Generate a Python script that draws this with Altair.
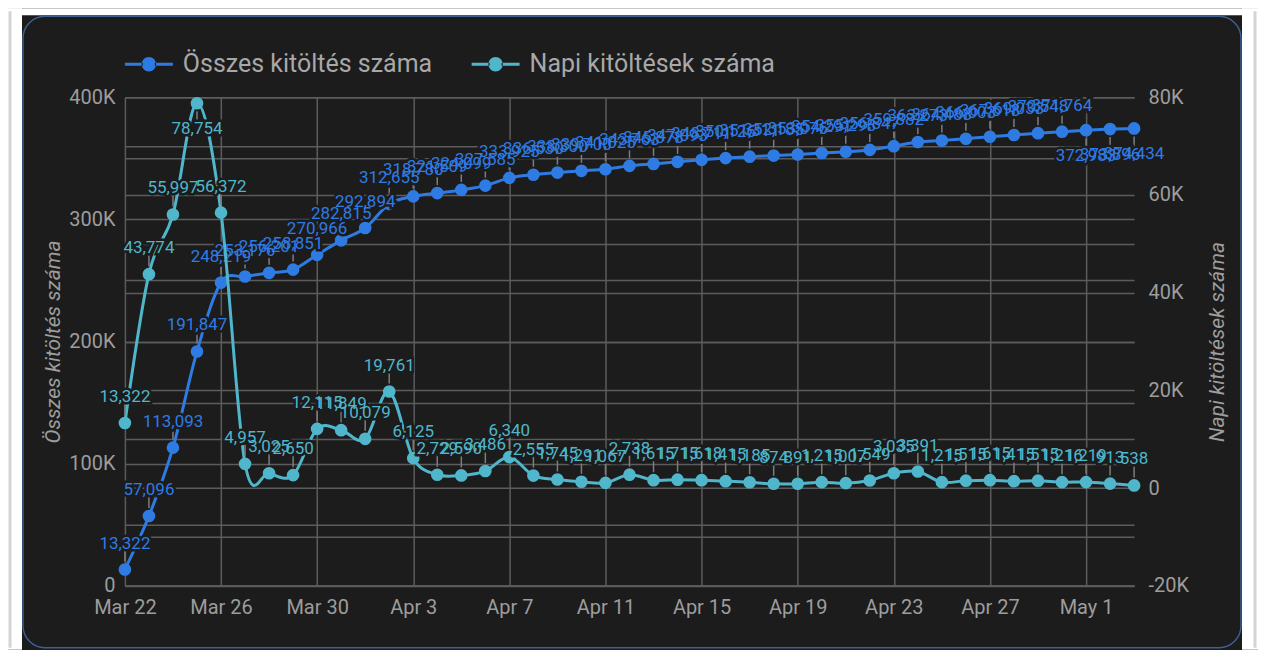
import altair as alt
import pandas as pd

# ---------------- data ----------------
start_date = "2020-03-22"
end_date = "2020-05-03"
dates = [d.strftime("%Y-%m-%d") for d in pd.date_range(start_date, end_date, freq="D")]

cumulative = [13322, 57096, 113093, 191847, 248219, 253176, 256201, 258851, 270966, 282815,
              292894, 312655, 318780, 321509, 324099, 327585, 333925, 336530, 338300, 339700,
              341025, 343763, 345378, 347093, 348711, 350126, 351311, 352185, 353076, 354291,
              355298, 356847, 359882, 363273, 364488, 366003, 367618, 369033, 370548, 371764,
              372983, 373896, 374434]
daily = [13322, 43774, 55997, 78754, 56372, 4957, 3025, 2650, 12115, 11849,
         10079, 19761, 6125, 2729, 2590, 3486, 6340, 2555, 1745, 1291,
         1067, 2738, 1615, 1715, 1618, 1415, 1185, 874, 891, 1215,
         1007, 1549, 3035, 3391, 1215, 1515, 1615, 1415, 1515, 1216,
         1219, 913, 538]

series_names = ["Összes kitöltés száma", "Napi kitöltések száma"]
x_tick_dates = ["2020-03-22", "2020-03-26", "2020-03-30", "2020-04-03", "2020-04-07",
                "2020-04-11", "2020-04-15", "2020-04-19", "2020-04-23", "2020-04-27",
                "2020-05-01"]
left_ticks = [0, 50000, 100000, 150000, 200000, 250000, 300000, 350000, 400000]
right_ticks = [-20000, -10000, 0, 10000, 20000, 30000, 40000, 50000, 60000, 70000, 80000]

# ---------------- style ----------------
BLUE = "#2f7be4"
CYAN = "#4fb6cb"
BG = "#1c1c1c"
GRID = "#5c5c5c"
TXT = "#9d9d9d"
LEAD = "#7d7d7d"
FONT = "Roboto"
W, H = 1010, 489


def ms(s):
    return int(pd.Timestamp(s, tz="UTC").value // 10**6)


MAY1 = ms("2020-05-01")

df = pd.DataFrame({"date": dates, "cum": cumulative, "daily": daily,
                   "s1": series_names[0], "s2": series_names[1]})
one = pd.DataFrame({"a": [0]})

xenc = alt.X("date:T",
             scale=alt.Scale(type="utc", domain=[ms(start_date), ms(end_date)], nice=False),
             axis=alt.Axis(values=[ms(d) for d in x_tick_dates], format="%b %-d",
                           title=None, grid=True, gridColor=GRID, gridWidth=1.5,
                           domainColor=GRID, domainWidth=2, ticks=False,
                           labelFont=FONT, labelFontSize=20, labelColor=TXT,
                           labelPadding=12, labelOverlap=False, labelFlush=False))

yl = alt.Y("cum:Q", scale=alt.Scale(domain=[0, 400000], nice=False, zero=False),
           axis=alt.Axis(orient="left", values=left_ticks,
                         labelExpr="datum.value % 100000 == 0 ? (datum.value == 0 ? '0' : (datum.value/1000) + 'K') : ''",
                         grid=True, gridColor=GRID, gridWidth=1.5, domain=False, ticks=False,
                         labelFont=FONT, labelFontSize=20, labelColor=TXT, labelPadding=10,
                         labelFlush=False,
                         title=series_names[0], titleFont=FONT, titleFontSize=21,
                         titleFontStyle="italic", titleFontWeight="normal", titleColor=TXT,
                         titlePadding=5))
yr = alt.Y("daily:Q", scale=alt.Scale(domain=[-20000, 80000], nice=False, zero=False),
           axis=alt.Axis(orient="right", values=right_ticks,
                         labelExpr="datum.value % 20000 == 0 ? (datum.value == 0 ? '0' : (datum.value/1000) + 'K') : ''",
                         grid=True, gridColor=GRID, gridWidth=1.5, domain=False, ticks=False,
                         labelFont=FONT, labelFontSize=20, labelColor=TXT, labelPadding=14,
                         labelFlush=False,
                         title=series_names[1], titleFont=FONT, titleFontSize=21,
                         titleFontStyle="italic", titleFontWeight="normal", titleColor=TXT,
                         titlePadding=39, titleAngle=270))

sym = ("M-1,-0.0625H-0.25V0.0625H-1Z M0.25,-0.0625H1V0.0625H0.25Z "
       "M-0.3,0A0.3,0.3 0 1,0 0.3,0A0.3,0.3 0 1,0 -0.3,0Z")
color_scale = alt.Scale(domain=series_names, range=[BLUE, CYAN])
legend = alt.Legend(orient="none", legendX=0, legendY=-57, direction="horizontal",
                    title=None, symbolType=sym, symbolSize=2304, symbolStrokeWidth=0,
                    symbolOpacity=1, labelFont=FONT, labelFontSize=25, labelColor="#a8a8a8",
                    labelOffset=10, columnPadding=39, labelLimit=400)

# ---------------- decorative card (white margins + outline) ----------------
L, T, R, B = -117, -89, W + 124, H + 64   # canvas edges relative to the plot area
WHITE = "white"
strip_l = alt.Chart(one).mark_rect(color=WHITE).encode(
    x=alt.value(L), x2=alt.value(-103), y=alt.value(T), y2=alt.value(B))
strip_t = alt.Chart(one).mark_rect(color=WHITE).encode(
    x=alt.value(L), x2=alt.value(R), y=alt.value(T), y2=alt.value(-82))
strip_r = alt.Chart(one).mark_rect(color=WHITE).encode(
    x=alt.value(W + 108), x2=alt.value(R), y=alt.value(T), y2=alt.value(B))
card = alt.Chart(one).mark_rect(fill="transparent", stroke="#3d6090", strokeWidth=1.5,
                                cornerRadius=22).encode(
    x=alt.value(-102), x2=alt.value(W + 107), y=alt.value(-81), y2=alt.value(B - 2))
frame_l = alt.Chart(one).mark_rule(color="#d4d4d4", strokeWidth=3).encode(
    x=alt.value(L + 2), y=alt.value(T + 3), y2=alt.value(B - 2))
frame_r = alt.Chart(one).mark_rule(color="#d4d4d4", strokeWidth=3).encode(
    x=alt.value(R - 3), y=alt.value(T + 3), y2=alt.value(B - 2))

# ---------------- cumulative series ----------------
bc = alt.Chart(df).encode(x=xenc, y=yl)
up_c = bc.transform_filter(f"+datum.date < {MAY1}")
dn_c = bc.transform_filter(f"+datum.date >= {MAY1}")
c_line = bc.mark_line(color=BLUE, strokeWidth=3, interpolate="cardinal")
c_lead_up = up_c.mark_rule(color=LEAD, strokeWidth=1.5, yOffset=-8, y2Offset=-19).encode(y2="cum:Q")
c_lead_dn = dn_c.mark_rule(color=LEAD, strokeWidth=1.5, yOffset=8, y2Offset=19).encode(y2="cum:Q")
c_pts = bc.mark_circle(size=160, opacity=1).encode(
    color=alt.Color("s1:N", scale=color_scale, legend=legend))
txt_c = alt.Text("cum:Q", format=",")
c_halo_up = up_c.mark_text(font=FONT, fontSize=17, dy=-21, baseline="alphabetic",
                           fill=BG, stroke=BG, strokeWidth=5).encode(text=txt_c)
c_text_up = up_c.mark_text(font=FONT, fontSize=17, dy=-21, baseline="alphabetic",
                           color=BLUE).encode(text=txt_c)
c_halo_dn = dn_c.mark_text(font=FONT, fontSize=17, dy=18, baseline="top",
                           fill=BG, stroke=BG, strokeWidth=5).encode(text=txt_c)
c_text_dn = dn_c.mark_text(font=FONT, fontSize=17, dy=18, baseline="top",
                           color=BLUE).encode(text=txt_c)
layer_cum = alt.layer(c_line, c_lead_up, c_lead_dn, c_pts, c_halo_up, c_halo_dn, c_text_up, c_text_dn)

# ---------------- daily series ----------------
bd = alt.Chart(df).encode(x=xenc, y=yr)
up_d = bd.transform_filter("datum.daily < 70000")
dn_d = bd.transform_filter("datum.daily >= 70000")
d_line = bd.mark_line(color=CYAN, strokeWidth=3, interpolate="cardinal")
d_lead_up = up_d.mark_rule(color=LEAD, strokeWidth=1.5, yOffset=-8, y2Offset=-19).encode(y2="daily:Q")
d_lead_dn = dn_d.mark_rule(color=LEAD, strokeWidth=1.5, yOffset=8, y2Offset=19).encode(y2="daily:Q")
d_pts = bd.mark_circle(size=160, opacity=1).encode(
    color=alt.Color("s2:N", scale=color_scale, legend=legend))
txt_d = alt.Text("daily:Q", format=",")
d_halo_up = up_d.mark_text(font=FONT, fontSize=17, dy=-21, baseline="alphabetic",
                           fill=BG, stroke=BG, strokeWidth=5).encode(text=txt_d)
d_text_up = up_d.mark_text(font=FONT, fontSize=17, dy=-21, baseline="alphabetic",
                           color=CYAN).encode(text=txt_d)
d_halo_dn = dn_d.mark_text(font=FONT, fontSize=17, dy=18, baseline="top",
                           fill=BG, stroke=BG, strokeWidth=5).encode(text=txt_d)
d_text_dn = dn_d.mark_text(font=FONT, fontSize=17, dy=18, baseline="top",
                           color=CYAN).encode(text=txt_d)
layer_daily = alt.layer(d_line, d_lead_up, d_lead_dn, d_pts, d_halo_up, d_halo_dn,
                        d_text_up, d_text_dn)

chart = alt.layer(strip_l, strip_t, strip_r, card, frame_l, frame_r,
                  layer_cum, layer_daily).resolve_scale(
    y="independent"
).properties(width=W, height=H, background=BG, padding=0).configure_view(stroke=None)

chart.save("out.html", embed_options={"renderer": "svg", "actions": False})
